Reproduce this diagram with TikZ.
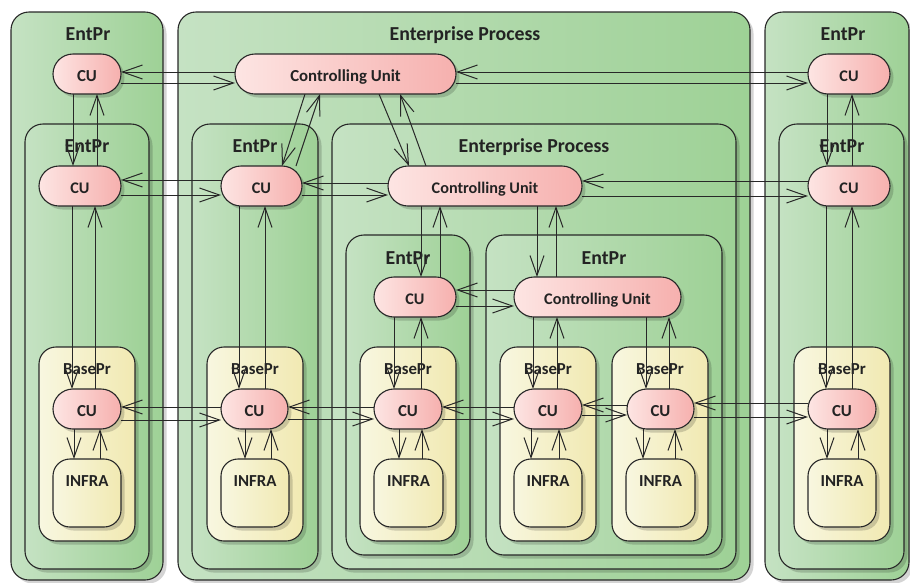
\documentclass[tikz,border=0pt]{standalone}
\usepackage{fontspec}
\setmainfont{Carlito}
\usetikzlibrary{arrows.meta,shadows}
\definecolor{gL}{RGB}{197,226,195}
\definecolor{gR}{RGB}{158,209,150}
\definecolor{pL}{RGB}{253,229,227}
\definecolor{pR}{RGB}{246,176,174}
\definecolor{yL}{RGB}{248,247,224}
\definecolor{yR}{RGB}{241,233,178}
\definecolor{lc}{RGB}{40,40,40}
\definecolor{tc}{RGB}{35,35,35}
\newcommand\fTitle{\fontsize{19.8}{23}\selectfont\bfseries}
\newcommand\fCU{\fontsize{16.8}{19}\selectfont\bfseries}
\newcommand\fCUs{\fontsize{16.2}{19}\selectfont\bfseries}
\newcommand\fSub{\fontsize{16.8}{19}\selectfont\bfseries}
\pgfdeclarelayer{bg}
\pgfdeclarelayer{conn}
\pgfsetlayers{bg,conn,main}
\tikzset{
  shd/.style={drop shadow={shadow xshift=3.5pt,shadow yshift=-3.5pt,fill=black,opacity=0.17}},
  grn/.style={shape=rectangle,draw=lc,line width=1.1pt,rounded corners=18pt,left color=gL,right color=gR,shd,outer sep=0pt,inner sep=0pt},
  ylw/.style={shape=rectangle,draw=lc,line width=1.1pt,rounded corners=17pt,left color=yL,right color=yR,shd,outer sep=0pt,inner sep=0pt},
  pnk/.style={shape=rectangle,draw=lc,line width=1.1pt,rounded corners=20pt,left color=pL,right color=pR,shd,outer sep=0pt,inner sep=0pt,text=tc,text height=14pt,text depth=0pt},
  ttl/.style={anchor=base,text=tc,inner sep=0pt},
  arr/.style={draw=lc,line width=1pt,-{Straight Barb[length=20pt,width=14pt,line width=1pt]}},
}
\newcommand\mkbox[7]{\node[#2,minimum width={(#5-(#3))*1pt},minimum height={(#6-(#4))*1pt},anchor=north west] (#1) at (#3,#4) {#7};}
\begin{document}
\begin{tikzpicture}[x=1pt,y=-1pt]
\useasboundingbox (0,0) rectangle (910,582);
\begin{pgfonlayer}{bg}
% outer containers
\mkbox{L0}{grn}{11}{12}{163}{580}{}
\mkbox{M0}{grn}{178}{12}{750}{580}{}
\mkbox{R0}{grn}{765}{12}{909}{580}{}
\node[ttl,font=\fTitle] (tL0) at (88,40) {EntPr};
\node[ttl,font=\fTitle] (tM0) at (465,40) {Enterprise Process};
\node[ttl,font=\fTitle] (tR0) at (843,40) {EntPr};
% second level
\mkbox{L1}{grn}{25}{124}{149}{569}{}
\mkbox{M1}{grn}{192}{124}{318}{569}{}
\mkbox{M2}{grn}{332}{124}{736}{569}{}
\mkbox{R1}{grn}{779}{124}{904}{569}{}
\node[ttl,font=\fTitle] (tL1) at (87,152) {EntPr};
\node[ttl,font=\fTitle] (tM1) at (255,152) {EntPr};
\node[ttl,font=\fTitle] (tM2) at (534,152) {Enterprise Process};
\node[ttl,font=\fTitle] (tR1) at (842,152) {EntPr};
% third level
\mkbox{M3}{grn}{346}{235}{470}{555}{}
\mkbox{M4}{grn}{486}{235}{722}{555}{}
\node[ttl,font=\fTitle] (tM3) at (408,264) {EntPr};
\node[ttl,font=\fTitle] (tM4) at (604,264) {EntPr};
% BasePr
\mkbox{B1}{ylw}{39}{347}{135}{541}{}
\mkbox{B2}{ylw}{207}{347}{303}{541}{}
\mkbox{B3}{ylw}{360}{347}{456}{541}{}
\mkbox{B4}{ylw}{500}{347}{596}{541}{}
\mkbox{B5}{ylw}{612}{347}{708}{541}{}
\mkbox{B6}{ylw}{794}{347}{890}{541}{}
\node[ttl,font=\fSub] (tB1) at (87,374) {BasePr};
\node[ttl,font=\fSub] (tB2) at (255,374) {BasePr};
\node[ttl,font=\fSub] (tB3) at (408,374) {BasePr};
\node[ttl,font=\fSub] (tB4) at (548,374) {BasePr};
\node[ttl,font=\fSub] (tB5) at (660,374) {BasePr};
\node[ttl,font=\fSub] (tB6) at (842,374) {BasePr};
% INFRA
\mkbox{I1}{ylw}{53}{459}{121}{527}{}
\mkbox{I2}{ylw}{221}{459}{289}{527}{}
\mkbox{I3}{ylw}{374}{459}{443}{527}{}
\mkbox{I4}{ylw}{514}{459}{582}{527}{}
\mkbox{I5}{ylw}{626}{459}{695}{527}{}
\mkbox{I6}{ylw}{808}{459}{876}{527}{}
\node[ttl,font=\fSub] (tI1) at (87,486) {INFRA};
\node[ttl,font=\fSub] (tI2) at (255,486) {INFRA};
\node[ttl,font=\fSub] (tI3) at (408.5,486) {INFRA};
\node[ttl,font=\fSub] (tI4) at (548,486) {INFRA};
\node[ttl,font=\fSub] (tI5) at (660.5,486) {INFRA};
\node[ttl,font=\fSub] (tI6) at (842,486) {INFRA};
\end{pgfonlayer}
% controlling units
\mkbox{cuLt}{pnk,font=\fCU}{53}{54}{121}{94}{CU}
\mkbox{ctrlT}{pnk,font=\fCU}{235}{54}{456}{94}{Controlling Unit}
\mkbox{cuRt}{pnk,font=\fCUs}{808}{54}{890}{94}{CU}
\mkbox{cuL2}{pnk,font=\fCUs}{39}{166}{121}{206}{CU}
\mkbox{cuM2}{pnk,font=\fCUs}{221}{166}{302}{206}{CU}
\mkbox{ctrl2}{pnk,font=\fCUs}{388}{166}{582}{206}{Controlling Unit}
\mkbox{cuR2}{pnk,font=\fCUs}{808}{166}{890}{206}{CU}
\mkbox{cu3}{pnk,font=\fCUs}{374}{277}{456}{317}{CU}
\mkbox{ctrl3}{pnk,font=\fCUs}{514}{277}{681}{317}{Controlling Unit}
\mkbox{b1}{pnk,font=\fCU}{53}{389}{121}{429}{CU}
\mkbox{b2}{pnk,font=\fCU}{221}{389}{288}{429}{CU}
\mkbox{b3}{pnk,font=\fCU}{374}{389}{442}{429}{CU}
\mkbox{b4}{pnk,font=\fCU}{514}{389}{582}{429}{CU}
\mkbox{b5}{pnk,font=\fCU}{627}{389}{694}{429}{CU}
\mkbox{b6}{pnk,font=\fCU}{808}{389}{876}{429}{CU}
\begin{pgfonlayer}{conn}
% row 1
\draw[arr] (ctrlT.west |- 0,72) -- (cuLt.east |- 0,72);
\draw[arr] (cuLt.east |- 0,83) -- (ctrlT.west |- 0,83);
\draw[arr] (cuRt.west |- 0,72) -- (ctrlT.east |- 0,72);
\draw[arr] (ctrlT.east |- 0,83) -- (cuRt.west |- 0,83);
% row 1 to row 2
\draw[arr] (cuLt.south -| 73,0) -- (cuL2.north -| 73,0);
\draw[arr] (cuL2.north -| 97,0) -- (cuLt.south -| 97,0);
\draw[arr] (cuRt.south -| 827,0) -- (cuR2.north -| 827,0);
\draw[arr] (cuR2.north -| 852,0) -- (cuRt.south -| 852,0);
\draw[arr] (ctrlT.south -| 305,0) -- (cuM2.north -| 282,0);
\draw[arr] (cuM2.north -| 296,0) -- (ctrlT.south -| 320,0);
\draw[arr] (ctrlT.south -| 379,0) -- (ctrl2.north -| 409,0);
\draw[arr] (ctrl2.north -| 426,0) -- (ctrlT.south -| 400,0);
% row 2
\draw[arr] (cuM2.west |- 0,180) -- (cuL2.east |- 0,180);
\draw[arr] (cuL2.east |- 0,195) -- (cuM2.west |- 0,195);
\draw[arr] (ctrl2.west |- 0,183) -- (cuM2.east |- 0,183);
\draw[arr] (cuM2.east |- 0,195) -- (ctrl2.west |- 0,195);
\draw[arr] (cuR2.west |- 0,181) -- (ctrl2.east |- 0,181);
\draw[arr] (ctrl2.east |- 0,196) -- (cuR2.west |- 0,196);
% row 2 to row 3
\draw[arr] (ctrl2.south -| 421,0) -- (cu3.north -| 421,0);
\draw[arr] (cu3.north -| 440,0) -- (ctrl2.south -| 440,0);
\draw[arr] (ctrl2.south -| 537,0) -- (ctrl3.north -| 537,0);
\draw[arr] (ctrl3.north -| 556,0) -- (ctrl2.south -| 556,0);
% row 3
\draw[arr] (ctrl3.west |- 0,290) -- (cu3.east |- 0,290);
\draw[arr] (cu3.east |- 0,306) -- (ctrl3.west |- 0,306);
% to row 4
\draw[arr] (cuL2.south -| 72,0) -- (b1.north -| 72,0);
\draw[arr] (b1.north -| 95,0) -- (cuL2.south -| 95,0);
\draw[arr] (cuM2.south -| 239,0) -- (b2.north -| 239,0);
\draw[arr] (b2.north -| 265,0) -- (cuM2.south -| 265,0);
\draw[arr] (cu3.south -| 394,0) -- (b3.north -| 394,0);
\draw[arr] (b3.north -| 421,0) -- (cu3.south -| 421,0);
\draw[arr] (ctrl3.south -| 533,0) -- (b4.north -| 533,0);
\draw[arr] (b4.north -| 557,0) -- (ctrl3.south -| 557,0);
\draw[arr] (ctrl3.south -| 646,0) -- (b5.north -| 646,0);
\draw[arr] (b5.north -| 669,0) -- (ctrl3.south -| 669,0);
\draw[arr] (cuR2.south -| 826,0) -- (b6.north -| 826,0);
\draw[arr] (b6.north -| 852,0) -- (cuR2.south -| 852,0);
% row 4
\draw[arr] (b2.west |- 0,407) -- (b1.east |- 0,407);
\draw[arr] (b1.east |- 0,420) -- (b2.west |- 0,420);
\draw[arr] (b3.west |- 0,407) -- (b2.east |- 0,407);
\draw[arr] (b2.east |- 0,419) -- (b3.west |- 0,419);
\draw[arr] (b4.west |- 0,407) -- (b3.east |- 0,407);
\draw[arr] (b3.east |- 0,419) -- (b4.west |- 0,419);
\draw[arr] (b5.west |- 0,405) -- (b4.east |- 0,405);
\draw[arr] (b4.east |- 0,415) -- (b5.west |- 0,415);
\draw[arr] (b6.west |- 0,403) -- (b5.east |- 0,403);
\draw[arr] (b5.east |- 0,417) -- (b6.west |- 0,417);
% to INFRA
\draw[arr] (b1.south -| 74,0) -- (I1.north -| 74,0);
\draw[arr] (I1.north -| 100,0) -- (b1.south -| 100,0);
\draw[arr] (b2.south -| 245,0) -- (I2.north -| 245,0);
\draw[arr] (I2.north -| 271,0) -- (b2.south -| 271,0);
\draw[arr] (b3.south -| 399,0) -- (I3.north -| 399,0);
\draw[arr] (I3.north -| 422,0) -- (b3.south -| 422,0);
\draw[arr] (b4.south -| 531,0) -- (I4.north -| 531,0);
\draw[arr] (I4.north -| 559,0) -- (b4.south -| 559,0);
\draw[arr] (b5.south -| 643,0) -- (I5.north -| 643,0);
\draw[arr] (I5.north -| 675,0) -- (b5.south -| 675,0);
\draw[arr] (b6.south -| 827,0) -- (I6.north -| 827,0);
\draw[arr] (I6.north -| 858,0) -- (b6.south -| 858,0);
\end{pgfonlayer}
\end{tikzpicture}
\end{document}
